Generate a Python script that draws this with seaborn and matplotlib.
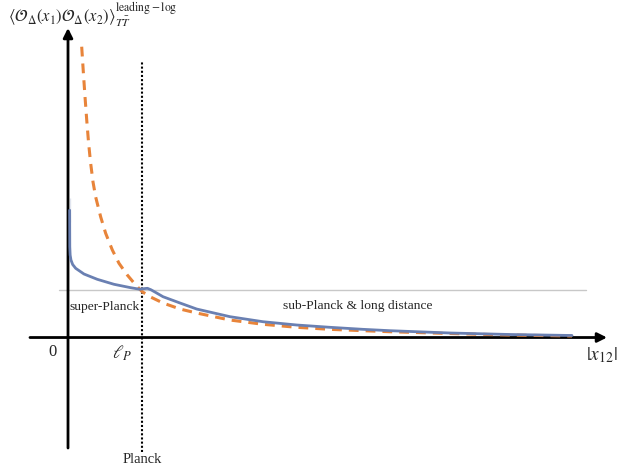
import seaborn as sns
import pandas as pd
import matplotlib.pyplot as plt

# curve samples (x in units of l_P, y in units of the grey level)
blue_x = [0.022, 0.022, 0.024, 0.029, 0.040, 0.063, 0.104, 0.216, 0.396, 0.622, 0.847,
          0.973, 1.027, 1.074, 1.122, 1.189, 1.284, 1.514, 1.739, 2.189, 2.635, 3.091,
          3.541, 3.986, 4.351, 5.162, 5.973, 6.811]
blue_y = [2.962, 2.457, 1.932, 1.755, 1.649, 1.553, 1.472, 1.351, 1.238, 1.132, 1.060,
          1.026, 1.040, 1.047, 1.015, 0.955, 0.868, 0.734, 0.606, 0.443, 0.336, 0.266,
          0.217, 0.174, 0.145, 0.096, 0.064, 0.043]

orange_x = [0.185, 0.207, 0.230, 0.253, 0.277, 0.304, 0.338, 0.374, 0.442, 0.509, 0.599,
            0.689, 0.801, 0.915, 1.004, 1.108, 1.284, 1.514, 1.739, 2.189, 2.635, 3.091,
            3.541, 3.986, 4.351, 5.162, 5.973, 6.811]
orange_y = [6.187, 5.649, 5.117, 4.628, 4.160, 3.734, 3.309, 2.989, 2.564, 2.217, 1.862,
            1.579, 1.330, 1.117, 0.974, 0.868, 0.734, 0.606, 0.521, 0.372, 0.281, 0.217,
            0.174, 0.145, 0.123, 0.085, 0.053, 0.032]

planck_x = 1.0
ref_level = 1.01

sns.set_theme(style="white")
plt.rcParams['font.family'] = ['Liberation Serif', 'DejaVu Serif']
plt.rcParams['mathtext.fontset'] = 'stix'

fig = plt.figure(figsize=(6.21, 4.67), dpi=100)
ax = fig.add_axes([0, 0, 1, 1])
ax.axis('off')

blue = pd.DataFrame({'x': blue_x, 'y': blue_y})
orange = pd.DataFrame({'x': orange_x, 'y': orange_y})

# grey reference level and dotted Planck line
ax.plot([-0.12, 7.0], [ref_level, ref_level], color='#c8c8c8', lw=1, zorder=1)
ax.plot([planck_x, planck_x], [-2.44, 5.88], color='black', lw=1.5, ls=(0, (1, 1)), zorder=2)

# axes with arrows
arrow = dict(arrowstyle='-|>', lw=2, color='black', mutation_scale=14, shrinkA=0, shrinkB=0)
ax.annotate('', xy=(7.284, 0), xytext=(-0.514, 0), arrowprops=arrow, zorder=2)
ax.annotate('', xy=(0, 6.585), xytext=(0, -2.351), arrowprops=arrow, zorder=2)

sns.lineplot(data=orange, x='x', y='y', color='#e8843a', lw=2.2, sort=False, ax=ax, zorder=3)
ax.lines[-1].set_linestyle((0, (3.2, 2.3)))
sns.lineplot(data=blue, x='x', y='y', color='#6a80b2', lw=2.0, sort=False, ax=ax, zorder=4)

ax.set_xlim(-0.919, 7.473)
ax.set_ylim(-2.755, 7.181)

ax.text(-0.203, -0.31, '0', fontsize=12, ha='center', va='center')
ax.text(0.73, -0.33, r'$\ell_P$', fontsize=13, ha='center', va='center')
ax.text(planck_x, -2.606, 'Planck', fontsize=10.5, ha='center', va='center')
ax.text(0.5, 0.64, 'super-Planck', fontsize=9.7, ha='center', va='center')
ax.text(2.90, 0.68, 'sub-Planck & long distance', fontsize=9.7, ha='left', va='center')
ax.text(7.216, -0.37, r'$|x_{12}|$', fontsize=14, ha='center', va='center')
fig.text(8 / 621, 1 - 15 / 467,
         r'$\langle \mathcal{O}_\Delta(x_1)\mathcal{O}_\Delta(x_2)\rangle^{\mathrm{leading-log}}_{T\bar{T}}$',
         fontsize=12, ha='left', va='center')

plt.savefig('out.png', dpi=100)
